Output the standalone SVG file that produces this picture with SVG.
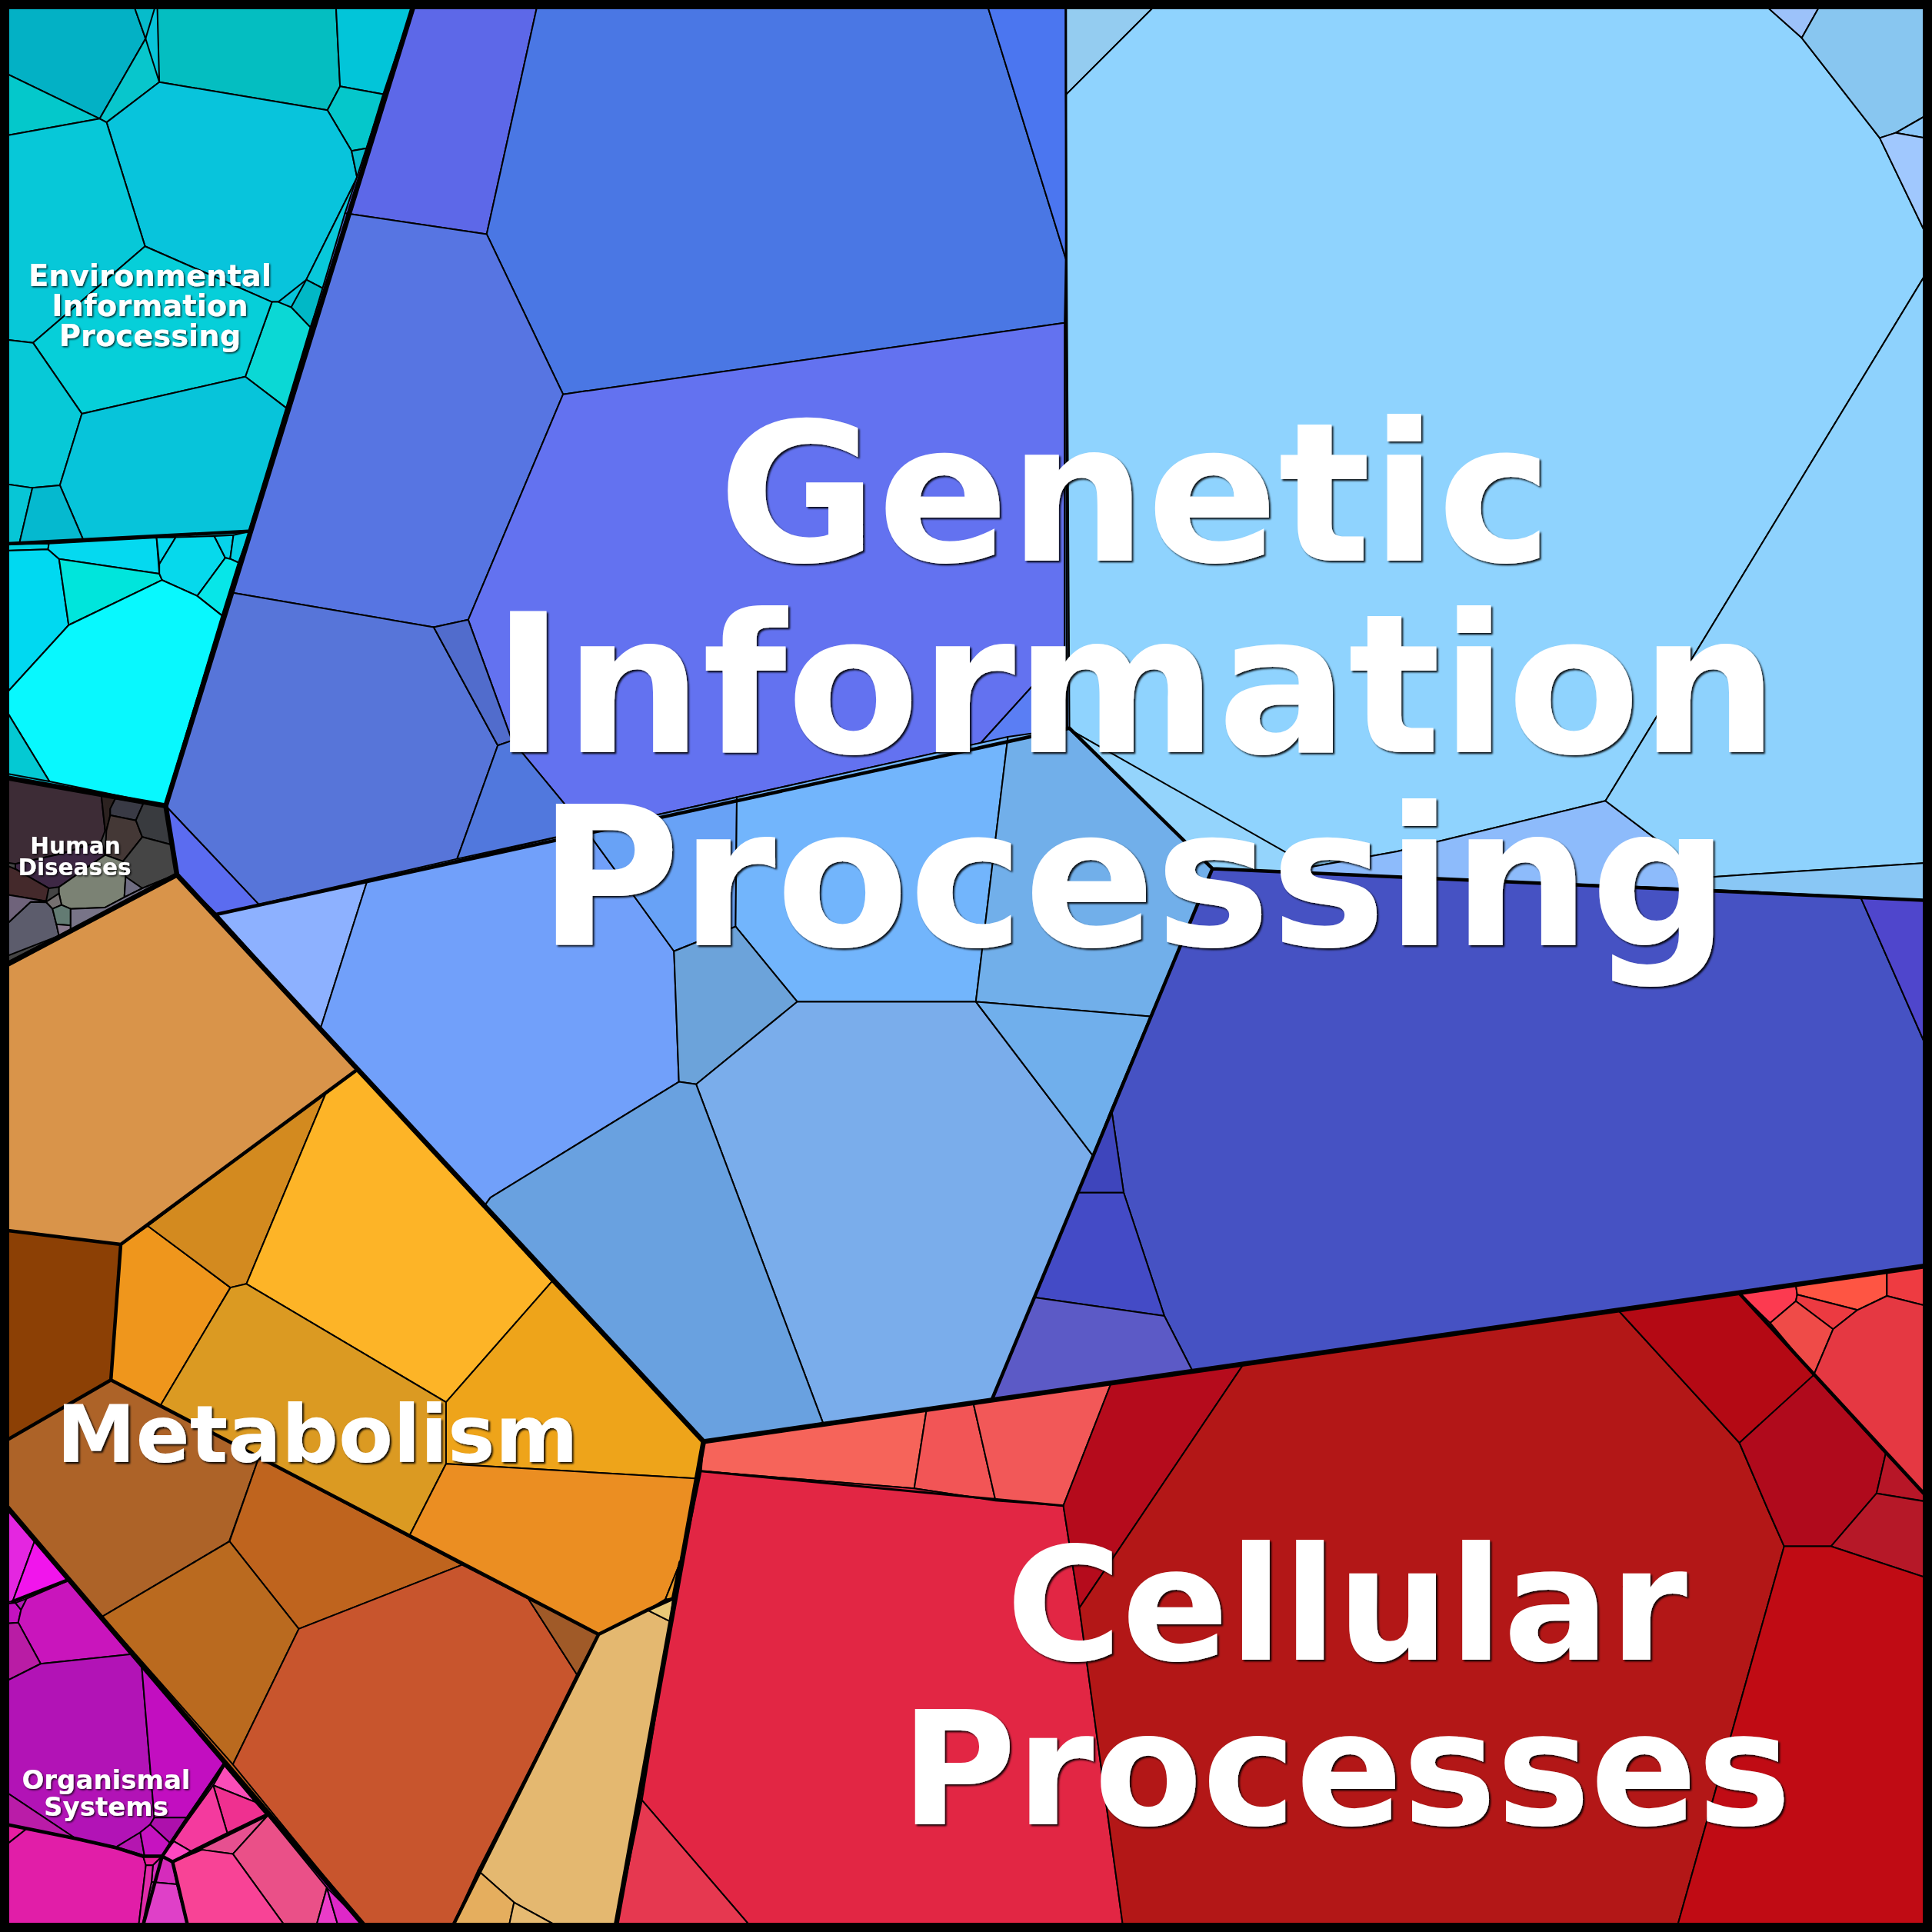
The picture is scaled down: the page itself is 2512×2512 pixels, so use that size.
<svg xmlns="http://www.w3.org/2000/svg" width="2512" height="2512" viewBox="0 0 2512 2512">
<style>
.c{stroke:#000;stroke-width:2;vector-effect:non-scaling-stroke;stroke-linejoin:round}
.m{fill:none;stroke:#000;stroke-width:4.5;vector-effect:non-scaling-stroke;stroke-linejoin:round;stroke-linecap:round}
.m3{fill:none;stroke:#000;stroke-width:3;vector-effect:non-scaling-stroke;stroke-linecap:round}
.k{fill:none;stroke:#000;stroke-width:6.5;vector-effect:non-scaling-stroke;stroke-linejoin:round;stroke-linecap:round}
.lbl{font-family:"DejaVu Sans","Liberation Sans",sans-serif;font-weight:bold;text-anchor:middle;fill:#fff}
</style>
<defs>
<filter id="ds" x="-5%" y="-10%" width="110%" height="130%">
<feDropShadow dx="2.2" dy="2.2" stdDeviation="0.9" flood-color="#000" flood-opacity="0.9"/>
</filter>
<filter id="ds2" x="-5%" y="-10%" width="110%" height="130%">
<feDropShadow dx="1.5" dy="1.5" stdDeviation="0.8" flood-color="#000" flood-opacity="0.8"/>
</filter>
</defs>
<rect width="2512" height="2512" fill="#fff"/>
<g transform="scale(1.60204)">
<g id="backgrounds">
<polygon points="0,0 337,0 134.5,654 0,630" fill="#07C4DA"/>
<polygon points="0,630 134.5,654 143.6,710 0,786" fill="#444"/>
<polygon points="337,0 1568,0 1568,1027 571,1170 143.6,710 134.5,654" fill="#6AA0F0"/>
<polygon points="0,786 143.6,710 571,1170 499,1568 300,1568 0,1216" fill="#C06020"/>
<polygon points="0,1216 300,1568 0,1568" fill="#C010C0"/>
<polygon points="571,1170 1568,1027 1568,1568 499,1568" fill="#B31717"/>
</g>

<g id="environmental-information-processing">
<g transform="scale(0.22293,0.42994)">
<polygon class="c" points="0,0 480,0 530,73 363,224 0,133" fill="#03B1C5"/>
<polygon class="c" points="480,0 572,0 530,73" fill="#06BCCB"/>
<polygon class="c" points="0,133 363,224 0,258" fill="#04C8CB"/>
<polygon class="c" points="530,73 580,155 388,231 363,224" fill="#08C6CC"/>
<polygon class="c" points="572,0 1222,0 1238,163 1192,208 580,155" fill="#04BEC1"/>
<polygon class="c" points="1222,0 1510,0 1395,178 1238,163" fill="#02C5D9"/>
<polygon class="c" points="1238,163 1395,178 1335,280 1280,285 1192,208" fill="#05C7CB"/>
<polygon class="c" points="388,231 580,155 1192,208 1280,285 1300,335 1115,528 1013,570 990,570 528,465" fill="#08C4DC"/>
<polygon class="c" points="1280,285 1335,280 1310,335 1300,335" fill="#06BACB"/>
<polygon class="c" points="1300,335 1310,335 1178,545 1115,528" fill="#08C8DA"/>
<polygon class="c" points="1115,528 1178,545 1130,618 1060,580" fill="#01B8C6"/>
<polygon class="c" points="990,570 1013,570 1060,580 1130,618 1042,770 893,711" fill="#0BD8D5"/>
<polygon class="c" points="0,258 363,224 388,231 528,465 120,647 0,640" fill="#07C8D8"/>
<polygon class="c" points="528,465 990,570 893,711 298,781 120,647" fill="#06CFD9"/>
<polygon class="c" points="0,640 120,647 298,781 218,916 118,921 0,912" fill="#07C9D7"/>
<polygon class="c" points="298,781 893,711 1042,770 905,1003 304,1020 218,916" fill="#07C4DA"/>
<polygon class="c" points="0,912 118,921 70,1027 0,1027" fill="#07C6D6"/>
<polygon class="c" points="118,921 218,916 304,1020 70,1027" fill="#05B9CF"/>
<polygon class="c" points="0,1028 178,1026 175,1037 0,1040" fill="#04D2E2"/>
<polygon class="c" points="0,1040 175,1037 215,1055 250,1180 0,1322" fill="#00D9F1"/>
<polygon class="c" points="175,1037 178,1026 570,1015 580,1083 215,1055" fill="#05D9F0"/>
<polygon class="c" points="215,1055 580,1083 590,1095 250,1180" fill="#00E5DC"/>
<polygon class="c" points="570,1015 640,1014 580,1065" fill="#05D8EE"/>
<polygon class="c" points="640,1014 780,1012 820,1053 718,1125 590,1095 580,1083 580,1065" fill="#06D9EC"/>
<polygon class="c" points="780,1012 850,1010 838,1055 820,1053" fill="#07D3EA"/>
<polygon class="c" points="850,1010 910,1003 868,1062 838,1055" fill="#05D0E4"/>
<polygon class="c" points="820,1053 838,1055 868,1062 808,1162 718,1125" fill="#07E6E8"/>
<polygon class="c" points="250,1180 590,1095 718,1125 808,1162 600,1520 180,1475 0,1322" fill="#08F8FE"/>
<polygon class="c" points="0,1322 180,1475 0,1458" fill="#04C9D3"/>
</g>
</g>

<g id="human-diseases">
<g transform="translate(0,611.71) scale(0.20807)">
<polygon class="c" points="0,90 395,160 410,300 395,340 240,390 60,430 0,420" fill="#3D2C36"/>
<polygon class="c" points="395,160 450,175 430,215 430,240 415,300 410,300" fill="#2C2220"/>
<polygon class="c" points="450,175 560,192 530,260 430,240 430,215" fill="#393A45"/>
<polygon class="c" points="430,240 530,260 555,325 480,420 410,395 415,300" fill="#443836"/>
<polygon class="c" points="560,192 660,200 668,355 555,325 530,260" fill="#393B3F"/>
<polygon class="c" points="555,325 668,355 690,470 555,525 490,480 480,420" fill="#454545"/>
<polygon class="c" points="60,430 240,390 395,340 410,395 230,520 190,525 60,450" fill="#3E2845"/>
<polygon class="c" points="230,520 410,395 480,420 490,480 485,560 410,600 275,605 240,590 230,545" fill="#7B8274"/>
<polygon class="c" points="490,480 555,525 485,560" fill="#6F6D82"/>
<polygon class="c" points="0,425 60,450 190,525 180,575 0,545" fill="#44292B"/>
<polygon class="c" points="0,545 180,575 120,578 0,690" fill="#6F637B"/>
<polygon class="c" points="275,605 410,600 485,560 555,525 700,465 275,700" fill="#787488"/>
<polygon class="c" points="0,690 120,578 180,580 205,605 220,665 230,710 0,800" fill="#5C5C6C"/>
<polygon class="c" points="180,578 230,545 240,590 205,605" fill="#757070"/>
<polygon class="c" points="205,605 240,590 275,605 275,670 220,665" fill="#637B73"/>
<polygon class="c" points="220,665 275,670 275,700 230,710" fill="#8A7A8E"/>
</g>
</g>

<g id="genetic-information-processing">
<polygon class="c" points="337,0 437,0 395,190 280,173" fill="#5D68E8"/>
<polygon class="c" points="437,0 800,0 865,210 864,262 457,320 395,190" fill="#4A77E4"/>
<polygon class="c" points="800,0 866,0 865,210" fill="#4B76F0"/>
<polygon class="c" points="280,173 395,190 457,320 380,503 352,509 188,481" fill="#5775E2"/>
<polygon class="c" points="380,503 457,320 864,262 864,528 796,603 476,674 415.6,601" fill="#6372F0"/>
<polygon class="c" points="188,481 352,509 404,605 371,697 210,734 134.5,654" fill="#5775D9"/>
<polygon class="c" points="352,509 380,503 415.6,601 404,605" fill="#516CCC"/>
<polygon class="c" points="404,605 415.6,601 476,674 371,697" fill="#5178DD"/>
<polygon class="c" points="796,603 864,528 866,591" fill="#5A7EF4"/>
<polygon class="c" points="134.5,654 210,734 176,742 143.6,710" fill="#5B6CF0"/>
<polygon class="c" points="176,742 298,715 260,835" fill="#8DB1FF"/>
<polygon class="c" points="260,835 298,715 476,674 547,772 551,878 398,972 393,979" fill="#71A0FA"/>
<polygon class="c" points="476,674 598,647 597,752 547,772" fill="#68A2F6"/>
<polygon class="c" points="598,647 818,598 792,813 647,813 597,752" fill="#72B5FC"/>
<polygon class="c" points="547,772 597,752 647,813 565,880 551,878" fill="#6CA3DA"/>
<polygon class="c" points="818,598 868,591 984,705 935,825 792,813" fill="#71AFEA"/>
<polygon class="c" points="647,813 792,813 887,938 805,1136 668,1155 565,880" fill="#7AADEB"/>
<polygon class="c" points="792,813 935,825 887,938" fill="#70AFEC"/>
<polygon class="c" points="393,979 398,972 551,878 565,880 668,1155 571,1170" fill="#69A1E0"/>
<polygon class="c" points="984,705 1510,728 1568,860 1568,1027 968,1113 945,1068 912,968 902,900" fill="#4652C3"/>
<polygon class="c" points="1510,728 1568,731 1568,860" fill="#4F46CC"/>
<polygon class="c" points="902,900 912,968 875,968" fill="#3E45BC"/>
<polygon class="c" points="875,968 912,968 945,1068 840,1053" fill="#444BC6"/>
<polygon class="c" points="840,1053 945,1068 968,1113 805,1136" fill="#5C5AC6"/>
<polygon class="c" points="865,0 942,0 865,77" fill="#94CCF0"/>
<polygon class="c" points="865,77 942,0 1428,0 1462.3,30.8 1525.6,111.9 1568,200 1568,214 1303,650 1134,691 1062,704 868,592" fill="#8FD3FE"/>
<polygon class="c" points="868,592 1060,701 1062,709 984,705" fill="#94D4FC"/>
<polygon class="c" points="1062,709 1062,704 1134,691 1303,650 1385,712 1390,722" fill="#8DBBFB"/>
<polygon class="c" points="1568,214 1568,700 1385,712 1303,650" fill="#8ED2FD"/>
<polygon class="c" points="1385,712 1568,700 1568,731 1390,722" fill="#89C7F5"/>
<g transform="translate(1373.25,0) scale(0.20807)">
<polygon class="c" points="262,0 511,0 428,148" fill="#9CC2FA"/>
<polygon class="c" points="511,0 940,0 940,435 795,518 732,538 428,148" fill="#88C6F0"/>
<polygon class="c" points="795,518 940,435 940,544" fill="#8CC8FA"/>
<polygon class="c" points="732,538 795,518 940,544 940,971" fill="#A0C8FE"/>
</g>
</g>

<g id="metabolism">
<polygon class="c" points="0,784 143.6,710 290,868 98,1010 0,998" fill="#D9944A"/>
<polygon class="c" points="0,998 98,1010 90,1120 0,1172" fill="#8C4005"/>
<polygon class="c" points="98,1010 120,995 187,1045 130,1141 90,1120" fill="#EF961C"/>
<polygon class="c" points="120,995 265,886 200,1042 187,1045" fill="#D38A1F"/>
<polygon class="c" points="265,886 290,868 448,1040 362,1138 200,1042" fill="#FDB427"/>
<polygon class="c" points="130,1141 187,1045 200,1042 362,1138 362,1188 332,1247" fill="#DB9A22"/>
<polygon class="c" points="448,1040 571,1170 567,1200 362,1188 362,1138" fill="#EEA41A"/>
<polygon class="c" points="362,1188 567,1200 552,1268 540,1298 525.4,1306.7 485.8,1326.5 332,1247" fill="#EB8E22"/>
<polygon class="c" points="0,1172 90,1120 210,1183 186,1251 83,1312 0,1216" fill="#AD6328"/>
<polygon class="c" points="210,1183 375,1270 242.5,1322 186.3,1251" fill="#BF641E"/>
<polygon class="c" points="83,1312 186.3,1251 242.5,1322 189,1432" fill="#BA6A1F"/>
<polygon class="c" points="242.5,1322 375,1270 428.6,1297.3 468.2,1359 365,1568 300,1568 189,1432" fill="#C8552D"/>
<polygon class="c" points="428.6,1297.3 485.8,1326.5 468.2,1359" fill="#A05A28"/>
<polygon class="c" points="485.8,1326.5 525.4,1306.7 544.1,1316 499,1568 460.9,1568 417.2,1544 388,1518" fill="#E4B870"/>
<polygon class="c" points="388,1518 417.2,1544 412,1568 365,1568" fill="#E5AE5E"/>
<polygon class="c" points="417.2,1544 460.9,1568 412,1568" fill="#E6BA72"/>
<polygon class="c" points="525.4,1306.7 546.2,1297.3 544.1,1316" fill="#E8C878"/>
<polygon class="c" points="540,1298 552,1268 546.2,1297.3" fill="#E89A2A"/>
</g>

<g id="organismal-systems">
<g transform="translate(0,1210.96) scale(0.227707)">
<polygon class="c" points="0,24 125,170 45,390 0,395" fill="#E426E0"/>
<polygon class="c" points="125,170 245,312 45,390" fill="#F115EC"/>
<polygon class="c" points="0,400 55,395 75,420 65,465 0,470" fill="#C412C0"/>
<polygon class="c" points="55,395 95,380 75,420" fill="#B21AB5"/>
<polygon class="c" points="95,380 245,315 470,578 145,612 65,465 75,420" fill="#C915BC"/>
<polygon class="c" points="0,470 65,465 145,612 0,685" fill="#B91CA5"/>
<polygon class="c" points="0,685 145,612 470,578 505,620 550,1160 535,1185 500,1213 415,1265 270,1235 0,1055" fill="#B213B6"/>
<polygon class="c" points="505,620 800,965 665,1160 550,1160" fill="#C20EC0"/>
<polygon class="c" points="0,1055 270,1235 0,1180" fill="#BA1CA8"/>
<polygon class="c" points="550,1160 665,1160 605,1250 535,1185" fill="#AD10AC"/>
<polygon class="c" points="415,1265 500,1213 515,1296" fill="#B416B0"/>
<polygon class="c" points="500,1213 535,1185 605,1250 578,1296 515,1296" fill="#C613C0"/>
<polygon class="c" points="800,975 910,1105 760,1045" fill="#FA4DB8"/>
<polygon class="c" points="760,1045 910,1105 948,1148 810,1215" fill="#EF3090"/>
<polygon class="c" points="578,1296 760,1045 810,1215 680,1280 620,1245" fill="#F43A9E"/>
<polygon class="c" points="578,1296 620,1245 680,1280 615,1318" fill="#FD48C2"/>
<polygon class="c" points="615,1318 955,1152 830,1290 720,1275" fill="#E65090"/>
<polygon class="c" points="830,1290 955,1152 1165,1410 1118,1580 1040,1580" fill="#EA5088"/>
<polygon class="c" points="615,1318 720,1275 830,1290 1040,1580 677,1580" fill="#F84396"/>
<polygon class="c" points="1165,1410 1215,1580 1118,1580" fill="#EA3CC8"/>
<polygon class="c" points="1165,1410 1290,1535 1310,1580 1215,1580" fill="#DE28C8"/>
<polygon class="c" points="0,1182 95,1200 0,1275" fill="#E81EA2"/>
<polygon class="c" points="0,1275 95,1200 270,1235 415,1268 510,1298 520,1330 490,1580 0,1580" fill="#E11EA8"/>
<polygon class="c" points="510,1298 578,1298 545,1330 520,1330" fill="#E8209A"/>
<polygon class="c" points="545,1330 578,1298 615,1318 630,1398 540,1390" fill="#D52CBC"/>
<polygon class="c" points="540,1390 630,1398 677,1580 500,1580" fill="#DF40C8"/>
<polygon class="c" points="520,1330 545,1330 540,1390 500,1580 490,1580" fill="#E02BA8"/>
</g>
</g>

<g id="cellular-processes">
<polygon class="c" points="571,1170 752,1144 742,1208 569,1194" fill="#F6645A"/>
<polygon class="c" points="752,1144 790,1139 808,1218 742,1208" fill="#F25556"/>
<polygon class="c" points="790,1139 902,1122 863,1222 808,1218" fill="#F25858"/>
<polygon class="c" points="569,1194 742,1208 808,1218 863,1222 876,1305 912,1568 613,1568 521,1461 547,1300" fill="#E22644"/>
<polygon class="c" points="521,1461 613,1568 499,1568" fill="#E63850"/>
<polygon class="c" points="902,1122 1010,1106 876,1305 863,1222" fill="#B50B1C"/>
<polygon class="c" points="1010,1106 1313,1063 1411.7,1171 1434.6,1224.7 1448,1255 1360,1568 912,1568 876,1305" fill="#B31717"/>
<polygon class="c" points="1313,1063 1411.7,1049.7 1472,1116 1411.7,1171" fill="#B40914"/>
<polygon class="c" points="1411.7,1171 1472,1116 1530.4,1179.7 1523,1212 1486,1255 1448,1255 1434.6,1224.7" fill="#B00A1C"/>
<polygon class="c" points="1530.4,1179.7 1568,1219.3 1523,1212" fill="#B71627"/>
<polygon class="c" points="1523,1212 1568,1219.5 1568,1282 1486,1255" fill="#B61828"/>
<polygon class="c" points="1448,1255 1486,1255 1568,1282 1568,1568 1360,1568" fill="#C00B14"/>
<polygon class="c" points="1411.7,1049.7 1457.5,1042.8 1458.6,1050.7 1457.5,1056 1436.7,1073.7" fill="#FC3A50"/>
<polygon class="c" points="1457.5,1042.8 1531.4,1032 1531.4,1051.8 1507.5,1063.2 1458.6,1050.7" fill="#FE5543"/>
<polygon class="c" points="1531.4,1032 1568,1026.7 1568,1061 1531.4,1051.8" fill="#EE3B41"/>
<polygon class="c" points="1458.6,1050.7 1507.5,1063.2 1487.7,1078.8 1457.5,1056" fill="#EC3A41"/>
<polygon class="c" points="1436.7,1073.7 1457.5,1056 1487.7,1078.8 1472,1116" fill="#EF4B48"/>
<polygon class="c" points="1487.7,1078.8 1507.5,1063.2 1531.4,1051.8 1568,1061 1568,1219 1472,1116" fill="#E53842"/>
</g>

<g id="connectors">
<path class="m" d="M0,441.6 L202,431.2"/>
<path class="m3" d="M865,0 L866,591"/>
<path class="m" d="M176,742 L868,591 L984,705 L1568,731 M984,705 L805,1136"/>
<path class="m" d="M0,998 L98,1010 L290,868 M98,1010 L90,1120 M0,1172 L90,1120 L485.8,1326.5 L365,1568 M485.8,1326.5 L525.4,1306.7 L546.2,1297.3 L552,1268"/>
<path class="m3" d="M569,1194 L863,1222"/>
<path class="m" d="M1411.7,1049.7 L1568,1219.3"/>
<g transform="translate(0,1210.96) scale(0.227707)">
<path class="m" d="M45,390 L245,312 M0,1180 L270,1235 L415,1268 L510,1298 L578,1298 L800,968 M578,1298 L615,1318 L955,1150 M615,1318 L677,1580 M578,1298 L500,1580"/>
</g>
<path class="k" d="M337,0 L134.5,654 L143.6,710 L571,1170 L1568,1026.7"/>
<path class="k" d="M0,630.3 L134.5,654"/>
<path class="k" d="M143.6,710 L0,786"/>
<path class="k" d="M571,1170 L499,1568"/>
<path class="k" d="M0,1216.4 L300,1568"/>
</g>
</g>

<rect x="6" y="6" width="2500" height="2500" fill="none" stroke="#000" stroke-width="12"/>

<g id="labels">
<g font-size="252" filter="url(#ds)">
<text class="lbl" x="1476" y="729">Genetic</text>
<text class="lbl" x="1476" y="978">Information</text>
<text class="lbl" x="1474" y="1229">Processing</text>
</g>
<g font-size="205" filter="url(#ds)">
<text class="lbl" x="1751" y="2158">Cellular</text>
<text class="lbl" x="1750" y="2372">Processes</text>
</g>
<g font-size="103.5" filter="url(#ds)">
<text class="lbl" x="412.5" y="1901">Metabolism</text>
</g>
<g font-size="38.5" filter="url(#ds2)">
<text class="lbl" x="195" y="372">Environmental</text>
<text class="lbl" x="195" y="411">Information</text>
<text class="lbl" x="195" y="449.5">Processing</text>
</g>
<g font-size="29.5" filter="url(#ds2)">
<text class="lbl" x="98" y="1110">Human</text>
<text class="lbl" x="97" y="1138">Diseases</text>
</g>
<g font-size="34" filter="url(#ds2)">
<text class="lbl" x="138" y="2326">Organismal</text>
<text class="lbl" x="138" y="2361">Systems</text>
</g>
</g>
</svg>
